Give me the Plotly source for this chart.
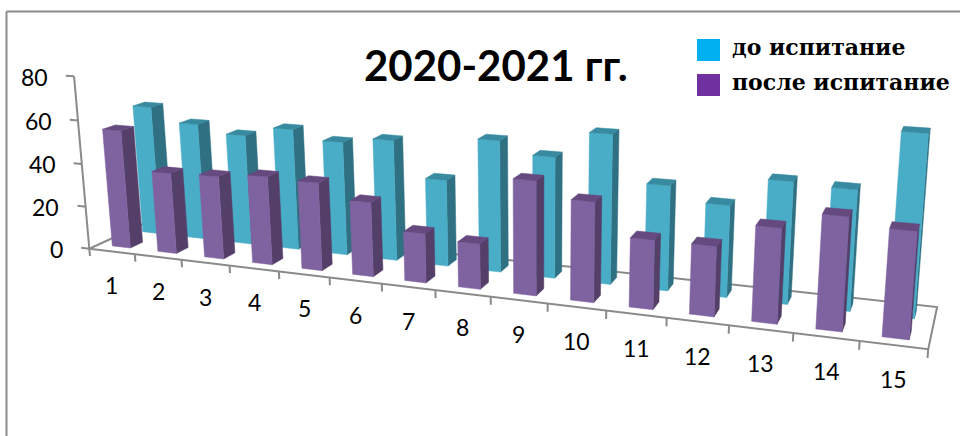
import numpy as np
import plotly.graph_objects as go

TITLE = "2020-2021 гг."
SERIES_NAMES = ["до испитание", "после испитание"]
CATEGORIES = list(range(1, 16))
VALUE_TICKS = [0, 20, 40, 60, 80]

before = [61, 54.6, 51.2, 55.8, 51.8, 54.5, 38.8, 58.2, 53, 64.6, 45, 39, 51, 49.9, 74]
after = [55, 37.4, 38, 40, 39.4, 33, 21.7, 19.7, 48.8, 42.3, 29, 29, 38.8, 45.7, 42.5]

CYAN = {"front": "#4aadc8", "side": "#2f7082", "top": "#378a9f", "key": "#00b0f0"}
PURPLE = {"front": "#7f62a0", "side": "#543f69", "top": "#65497f", "key": "#7030a0"}
AXIS_GREY = "#8a8a8a"

# Perspective camera: (category, depth, value) -> screen, solved from the
# corners of the plot box and a point along the front edge.
box_world = [(0, 0, 0), (15, 0, 0), (0, 1, 0), (15, 1, 0), (0, 0, 80), (15, 0, 80), (7, 0, 0)]
box_screen = [(89, 249), (928, 349), (150, 220), (937, 308), (74, 77), (945, 136), (436, 290)]


def solve_camera(world, screen):
    rows, rhs = [], []
    for (u, v, z), (px, py) in zip(world, screen):
        rows.append([u, v, z, 1, 0, 0, 0, 0, -px * u, -px * v, -px * z])
        rhs.append(px)
        rows.append([0, 0, 0, 0, u, v, z, 1, -py * u, -py * v, -py * z])
        rhs.append(py)
    m = np.linalg.lstsq(np.array(rows, float), np.array(rhs, float), rcond=None)[0]
    return np.append(m, 1.0).reshape(3, 4)


CAMERA = solve_camera(box_world, box_screen)


def project(u, v, z):
    sx, sy, w = CAMERA @ np.array([u, v, z, 1.0])
    return sx / w, sy / w


BAR_WIDTH = 0.4   # share of a category
BAR_DEPTH = 0.2   # share of the floor depth


def polygons(corners):
    xs, ys = [], []
    for poly in corners:
        pts = [project(*p) for p in poly] + [project(*poly[0])]
        xs += [p[0] for p in pts] + [None]
        ys += [p[1] for p in pts] + [None]
    return xs, ys


def bar_row(values, v0, colors, name):
    """Three filled traces (side, front, top) for one row of 3D columns."""
    side, front, top = [], [], []
    v1 = v0 + BAR_DEPTH
    for i, val in enumerate(values):
        u0 = i + 0.5 - BAR_WIDTH / 2
        u1 = u0 + BAR_WIDTH
        front.append([(u0, v0, 0), (u1, v0, 0), (u1, v0, val), (u0, v0, val)])
        side.append([(u1, v0, 0), (u1, v1, 0), (u1, v1, val), (u1, v0, val)])
        top.append([(u0, v0, val), (u1, v0, val), (u1, v1, val), (u0, v1, val)])
    traces = []
    for part, faces in (("side", side), ("front", front), ("top", top)):
        xs, ys = polygons(faces)
        traces.append(go.Scatter(x=xs, y=ys, mode="lines", fill="toself",
                                 fillcolor=colors[part], name=name, showlegend=False,
                                 line=dict(color=colors[part], width=0.5), hoverinfo="skip"))
    return traces


def axis_line(points, width=2):
    xs, ys = [], []
    for seg in points:
        for p in seg:
            x, y = project(*p)
            xs.append(x)
            ys.append(y)
        xs.append(None)
        ys.append(None)
    return go.Scatter(x=xs, y=ys, mode="lines", showlegend=False, hoverinfo="skip",
                      line=dict(color=AXIS_GREY, width=width))


fig = go.Figure()

# Floor outline, value axis and tick marks sit beneath the columns.
last = len(CATEGORIES)
floor = [[(0, 0, 0), (0, 1, 0), (last, 1, 0), (last, 0, 0), (0, 0, 0)]]
value_axis = [[(0, 0, 0), (0, 0, VALUE_TICKS[-1])]]
value_marks = [[(0, 0, t), (-0.18, 0, t)] for t in VALUE_TICKS]
cat_marks = [[(i, 0, 0), (i, 0, -3.5)] for i in range(last + 1)]
fig.add_trace(axis_line(floor + value_axis + value_marks + cat_marks))

for tr in bar_row(before, 0.65, CYAN, SERIES_NAMES[0]):
    fig.add_trace(tr)
for tr in bar_row(after, 0.15, PURPLE, SERIES_NAMES[1]):
    fig.add_trace(tr)

TICK_FONT = dict(family="Lato, Open Sans", size=23, color="#000000")
annotations = []
for t in VALUE_TICKS:
    x, y = project(-0.18, 0, t)
    annotations.append(dict(x=x, y=y, xref="x", yref="y", text=str(t), showarrow=False,
                            xanchor="right", yanchor="middle", xshift=-16, yshift=-1,
                            font=TICK_FONT))
for i, c in enumerate(CATEGORIES):
    x, y = project(i + 0.5, 0, 0)
    annotations.append(dict(x=x, y=y, xref="x", yref="y", text=str(c), showarrow=False,
                            xanchor="center", yanchor="middle", yshift=-34, font=TICK_FONT))

annotations.append(dict(x=496, y=65, xref="x", yref="y", text=TITLE, showarrow=False,
                        xanchor="center", yanchor="middle",
                        font=dict(family="Lato, Open Sans", size=42, color="#000000", weight="bold")))

legend_rows = [(SERIES_NAMES[0], CYAN["key"], 50), (SERIES_NAMES[1], PURPLE["key"], 85)]
shapes = []
for label, color, yc in legend_rows:
    annotations.append(dict(x=730, y=yc - 3, xref="x", yref="y", text=label, showarrow=False,
                            xanchor="left", yanchor="middle",
                            font=dict(family="DejaVu Serif", size=22, color="#000000", weight="bold")))
    shapes.append(dict(type="rect", x0=697, x1=720, y0=yc - 11, y1=yc + 11, xref="x", yref="y",
                       fillcolor=color, line=dict(width=0)))

# Thin chart border: top and left edges only.
for x0, y0, x1, y1 in [(6.5, 11.5, 960, 11.5), (6.5, 11.5, 6.5, 436)]:
    shapes.append(dict(type="line", x0=x0, y0=y0, x1=x1, y1=y1, xref="x", yref="y",
                       line=dict(color="#8c8c8c", width=2)))

fig.update_layout(
    width=960, height=436, margin=dict(l=0, r=0, t=0, b=0),
    paper_bgcolor="#ffffff", plot_bgcolor="#ffffff", showlegend=False,
    xaxis=dict(range=[0, 960], visible=False, fixedrange=True),
    yaxis=dict(range=[436, 0], visible=False, fixedrange=True),
    annotations=annotations, shapes=shapes,
)
fig.write_html("out.html", config={"displayModeBar": False})
